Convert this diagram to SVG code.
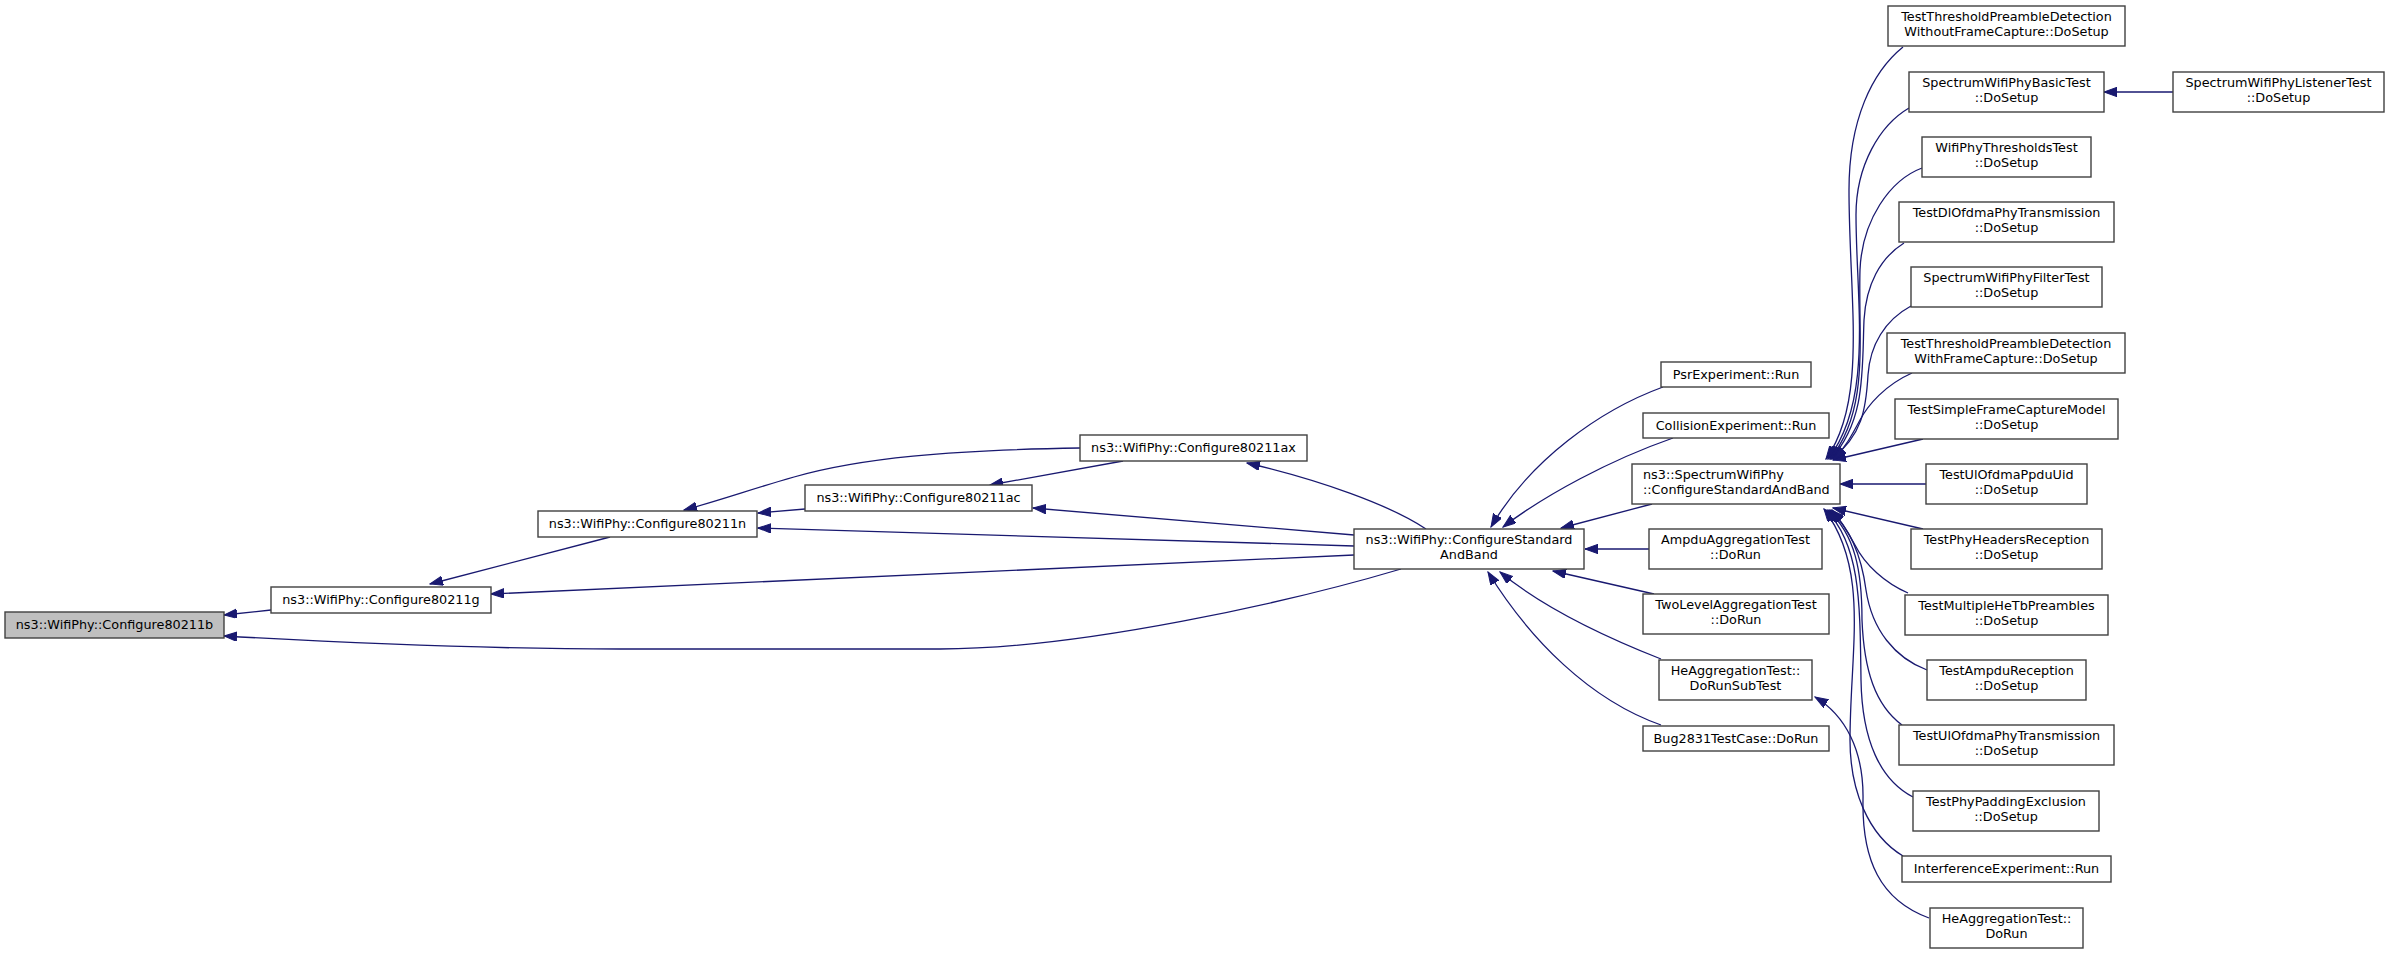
<svg xmlns="http://www.w3.org/2000/svg" width="2389" height="953" viewBox="0 0 2389 953">
<style>
.node rect{fill:#ffffff;stroke:#404040;stroke-width:1.4}
.main rect{fill:#bfbfbf;stroke:#404040;stroke-width:1.4}
.node text{font-family:"DejaVu Sans","Liberation Sans",sans-serif;font-size:12.8px;fill:#000;text-anchor:middle}
.node text.l{text-anchor:start}
.edges path{fill:none;stroke:#191970;stroke-width:1.3}
</style>
<defs>
<marker id="ah" markerUnits="userSpaceOnUse" markerWidth="14" markerHeight="10" refX="13" refY="4.7" orient="auto">
<path d="M0,0 L13,4.7 L0,9.4 z" fill="#191970" stroke="#191970" stroke-width="1"/>
</marker>
</defs>
<rect width="2389" height="953" fill="#ffffff"/>
<g class="edges" marker-end="url(#ah)">
<path d="M271,610 L224,615" marker-end="url(#ah)"/>
<path d="M1401,569 C1290,602 1080,649 940,649 L620,649 C480,649 330,642 224,636" marker-end="url(#ah)"/>
<path d="M1354,555 L491,594" marker-end="url(#ah)"/>
<path d="M1354,546 L758,528" marker-end="url(#ah)"/>
<path d="M1354,535 L1033,508" marker-end="url(#ah)"/>
<path d="M1426,529 C1390,505 1320,480 1247,463" marker-end="url(#ah)"/>
<path d="M1080,448 C950,450 860,458 794,477 C755,488 715,502 684,510" marker-end="url(#ah)"/>
<path d="M1123,461 L990,485" marker-end="url(#ah)"/>
<path d="M805,509 L758,513" marker-end="url(#ah)"/>
<path d="M610,537 L430,584" marker-end="url(#ah)"/>
<path d="M1663,387 C1600,410 1530,460 1491,527" marker-end="url(#ah)"/>
<path d="M1673,438 C1610,460 1545,495 1503,527" marker-end="url(#ah)"/>
<path d="M1652,504 L1561,528" marker-end="url(#ah)"/>
<path d="M1649,549 L1585,549" marker-end="url(#ah)"/>
<path d="M1654,594 L1553,571" marker-end="url(#ah)"/>
<path d="M1661,659 C1600,635 1540,605 1500,572" marker-end="url(#ah)"/>
<path d="M1661,725 C1590,700 1530,640 1488,572" marker-end="url(#ah)"/>
<path d="M2173,92 L2104,92" marker-end="url(#ah)"/>
<path d="M1926,484 L1840,484" marker-end="url(#ah)"/>
<path d="M1923,439 L1833,460" marker-end="url(#ah)"/>
<path d="M1923,529 L1833,508" marker-end="url(#ah)"/>
<path d="M1903,47 C1872,72 1849,120 1849,190 C1849,300 1868,400 1826,459" marker-end="url(#ah)"/>
<path d="M1909,108 C1880,125 1856,165 1856,215 C1856,300 1874,400 1828,459" marker-end="url(#ah)"/>
<path d="M1922,168 C1890,180 1862,220 1860,270 C1858,340 1870,410 1830,459" marker-end="url(#ah)"/>
<path d="M1904,243 C1880,258 1866,285 1864,320 C1862,370 1866,420 1831,459" marker-end="url(#ah)"/>
<path d="M1911,306 C1885,320 1870,345 1868,375 C1866,410 1862,435 1832,459" marker-end="url(#ah)"/>
<path d="M1912,373 C1885,385 1868,405 1860,420 C1852,435 1845,448 1834,459" marker-end="url(#ah)"/>
<path d="M1908,593 C1885,583 1865,565 1855,545 C1848,532 1840,520 1832,510" marker-end="url(#ah)"/>
<path d="M1927,670 C1895,658 1872,630 1866,590 C1862,560 1852,530 1830,510" marker-end="url(#ah)"/>
<path d="M1902,725 C1875,705 1864,670 1862,620 C1862,570 1855,535 1828,510" marker-end="url(#ah)"/>
<path d="M1913,797 C1880,780 1862,740 1861,680 C1860,600 1860,545 1826,510" marker-end="url(#ah)"/>
<path d="M1903,856 C1868,835 1850,790 1850,740 C1850,650 1870,570 1824,509" marker-end="url(#ah)"/>
<path d="M1929,918 C1880,900 1862,860 1863,800 C1864,750 1845,715 1815,697" marker-end="url(#ah)"/>
</g>
<g id="n80211b" class="main"><rect x="5" y="612" width="219" height="26"/><text x="114.5" y="629" style="font-family:'DejaVu Sans',sans-serif;font-size:12.8px;text-anchor:middle">ns3::WifiPhy::Configure80211b</text></g>
<g id="n80211g" class="node"><rect x="271" y="587" width="220" height="26"/><text x="381" y="604">ns3::WifiPhy::Configure80211g</text></g>
<g id="n80211n" class="node"><rect x="538" y="511" width="219" height="26"/><text x="647.5" y="528">ns3::WifiPhy::Configure80211n</text></g>
<g id="n80211ac" class="node"><rect x="805" y="485" width="227" height="26"/><text x="918.5" y="502">ns3::WifiPhy::Configure80211ac</text></g>
<g id="n80211ax" class="node"><rect x="1080" y="435" width="227" height="26"/><text x="1193.5" y="452">ns3::WifiPhy::Configure80211ax</text></g>
<g id="csab" class="node"><rect x="1354" y="529" width="230" height="40"/><text x="1469" y="544">ns3::WifiPhy::ConfigureStandard</text><text x="1469" y="559">AndBand</text></g>
<g id="psr" class="node"><rect x="1661" y="362" width="150" height="25"/><text x="1736" y="379">PsrExperiment::Run</text></g>
<g id="collision" class="node"><rect x="1643" y="413" width="186" height="25"/><text x="1736" y="430">CollisionExperiment::Run</text></g>
<g id="swpcsab" class="node"><rect x="1632" y="464" width="208" height="40"/><text class="l" x="1643" y="479">ns3::SpectrumWifiPhy</text><text class="l" x="1643" y="494">::ConfigureStandardAndBand</text></g>
<g id="ampduagg" class="node"><rect x="1649" y="529" width="173" height="40"/><text x="1735.5" y="544">AmpduAggregationTest</text><text x="1735.5" y="559">::DoRun</text></g>
<g id="twolevel" class="node"><rect x="1643" y="594" width="186" height="40"/><text x="1736" y="609">TwoLevelAggregationTest</text><text x="1736" y="624">::DoRun</text></g>
<g id="heaggsub" class="node"><rect x="1659" y="660" width="153" height="40"/><text x="1735.5" y="675">HeAggregationTest::</text><text x="1735.5" y="690">DoRunSubTest</text></g>
<g id="bug2831" class="node"><rect x="1643" y="726" width="186" height="25"/><text x="1736" y="743">Bug2831TestCase::DoRun</text></g>
<g id="withoutfc" class="node"><rect x="1888" y="6" width="237" height="40"/><text x="2006.5" y="21">TestThresholdPreambleDetection</text><text x="2006.5" y="36">WithoutFrameCapture::DoSetup</text></g>
<g id="basictest" class="node"><rect x="1909" y="72" width="195" height="40"/><text x="2006.5" y="87">SpectrumWifiPhyBasicTest</text><text x="2006.5" y="102">::DoSetup</text></g>
<g id="listenertest" class="node"><rect x="2173" y="72" width="211" height="40"/><text x="2278.5" y="87">SpectrumWifiPhyListenerTest</text><text x="2278.5" y="102">::DoSetup</text></g>
<g id="thresholdstest" class="node"><rect x="1922" y="137" width="169" height="40"/><text x="2006.5" y="152">WifiPhyThresholdsTest</text><text x="2006.5" y="167">::DoSetup</text></g>
<g id="dlofdma" class="node"><rect x="1899" y="202" width="215" height="40"/><text x="2006.5" y="217">TestDlOfdmaPhyTransmission</text><text x="2006.5" y="232">::DoSetup</text></g>
<g id="filtertest" class="node"><rect x="1911" y="267" width="191" height="40"/><text x="2006.5" y="282">SpectrumWifiPhyFilterTest</text><text x="2006.5" y="297">::DoSetup</text></g>
<g id="withfc" class="node"><rect x="1887" y="333" width="238" height="40"/><text x="2006" y="348">TestThresholdPreambleDetection</text><text x="2006" y="363">WithFrameCapture::DoSetup</text></g>
<g id="simplefc" class="node"><rect x="1895" y="399" width="223" height="40"/><text x="2006.5" y="414">TestSimpleFrameCaptureModel</text><text x="2006.5" y="429">::DoSetup</text></g>
<g id="ulppduuid" class="node"><rect x="1926" y="464" width="161" height="40"/><text x="2006.5" y="479">TestUlOfdmaPpduUid</text><text x="2006.5" y="494">::DoSetup</text></g>
<g id="phyheaders" class="node"><rect x="1911" y="529" width="191" height="40"/><text x="2006.5" y="544">TestPhyHeadersReception</text><text x="2006.5" y="559">::DoSetup</text></g>
<g id="multiplehetb" class="node"><rect x="1905" y="595" width="203" height="40"/><text x="2006.5" y="610">TestMultipleHeTbPreambles</text><text x="2006.5" y="625">::DoSetup</text></g>
<g id="ampdureception" class="node"><rect x="1927" y="660" width="159" height="40"/><text x="2006.5" y="675">TestAmpduReception</text><text x="2006.5" y="690">::DoSetup</text></g>
<g id="ulofdmaphytx" class="node"><rect x="1899" y="725" width="215" height="40"/><text x="2006.5" y="740">TestUlOfdmaPhyTransmission</text><text x="2006.5" y="755">::DoSetup</text></g>
<g id="phypadding" class="node"><rect x="1913" y="791" width="186" height="40"/><text x="2006" y="806">TestPhyPaddingExclusion</text><text x="2006" y="821">::DoSetup</text></g>
<g id="interference" class="node"><rect x="1902" y="856" width="209" height="26"/><text x="2006.5" y="873">InterferenceExperiment::Run</text></g>
<g id="heaggdorun" class="node"><rect x="1930" y="908" width="153" height="40"/><text x="2006.5" y="923">HeAggregationTest::</text><text x="2006.5" y="938">DoRun</text></g>
</svg>
